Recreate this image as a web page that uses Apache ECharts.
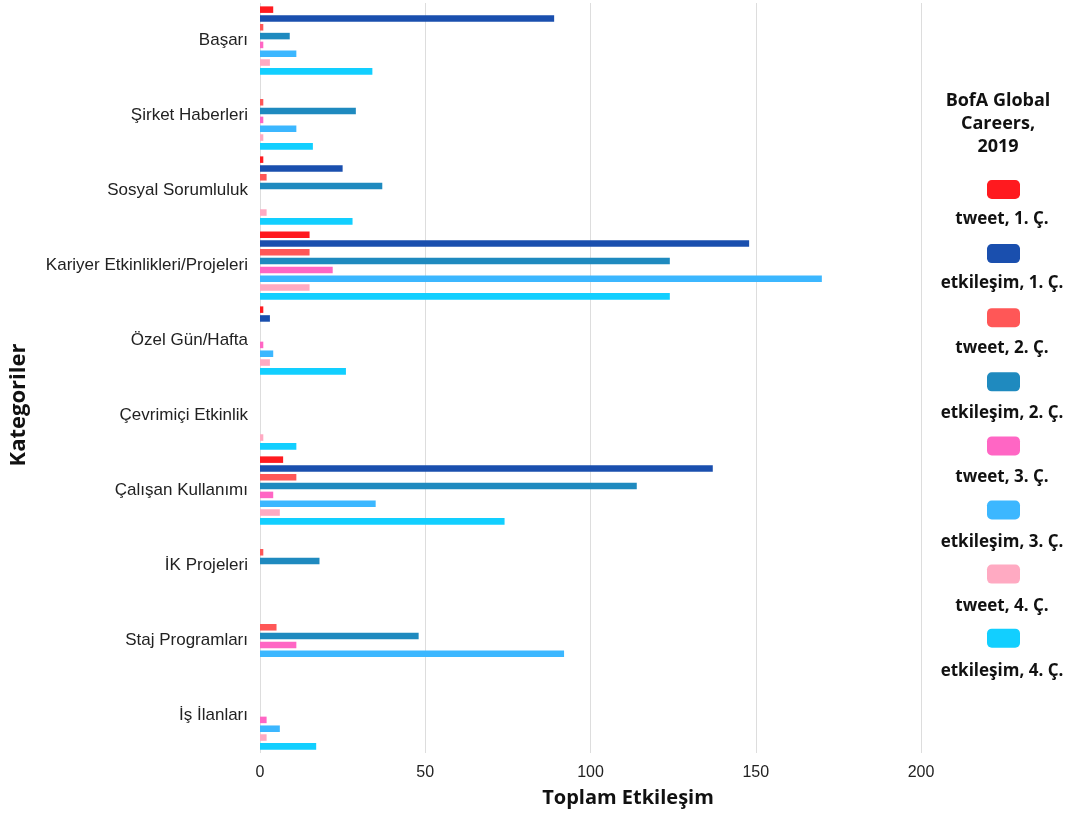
<!DOCTYPE html>
<html>
<head>
<meta charset="utf-8">
<script src="https://cdn.jsdelivr.net/npm/echarts@6/dist/echarts.min.js"></script>
<style>
  html, body { margin: 0; padding: 0; background: #ffffff; }
  #chart { width: 1070px; height: 816px; }
</style>
</head>
<body>
<div id="chart"></div>
<script>
// Categories (top to bottom)
const categories = [
  'Başarı', 'Şirket Haberleri', 'Sosyal Sorumluluk', 'Kariyer Etkinlikleri/Projeleri',
  'Özel Gün/Hafta', 'Çevrimiçi Etkinlik', 'Çalışan Kullanımı', 'İK Projeleri',
  'Staj Programları', 'İş İlanları'
];

// Series names and values per quarter
const seriesNames = [
  'tweet, 1. Ç.', 'etkileşim, 1. Ç.', 'tweet, 2. Ç.', 'etkileşim, 2. Ç.',
  'tweet, 3. Ç.', 'etkileşim, 3. Ç.', 'tweet, 4. Ç.', 'etkileşim, 4. Ç.'
];
const tweetQ1 = [4, 0, 1, 15, 1, 0, 7, 0, 0, 0];
const etkQ1   = [89, 0, 25, 148, 3, 0, 137, 0, 0, 0];
const tweetQ2 = [1, 1, 2, 15, 0, 0, 11, 1, 5, 0];
const etkQ2   = [9, 29, 37, 124, 0, 0, 114, 18, 48, 0];
const tweetQ3 = [1, 1, 0, 22, 1, 0, 4, 0, 11, 2];
const etkQ3   = [11, 11, 0, 170, 4, 0, 35, 0, 92, 6];
const tweetQ4 = [3, 1, 2, 15, 3, 1, 6, 0, 0, 2];
const etkQ4   = [34, 16, 28, 124, 26, 11, 74, 0, 0, 17];

// X axis ticks
const xTicks = [0, 50, 100, 150, 200];

const seriesValues = [tweetQ1, etkQ1, tweetQ2, etkQ2, tweetQ3, etkQ3, tweetQ4, etkQ4];
const colors = ['#ff1a1f', '#1a4fae', '#ff5757', '#1f8abf', '#ff66c4', '#3cb7ff', '#ffaac2', '#12cfff'];

const chart = echarts.init(document.getElementById('chart'), null, { renderer: 'canvas' });

const option = {
  backgroundColor: '#ffffff',
  animation: false,
  color: colors,
  title: {
    text: 'BofA Global\nCareers,\n2019',
    left: 993,
    top: 84,
    textAlign: 'center',
    textStyle: {
      fontFamily: 'Open Sans',
      fontWeight: 'bold',
      fontSize: 18,
      lineHeight: 23,
      color: '#111111'
    }
  },
  legend: [
    {
      // colour swatches
      orient: 'vertical',
      left: 982,
      top: 175,
      itemWidth: 33,
      itemHeight: 19,
      itemGap: 45.1,
      icon: 'roundRect',
      formatter: () => '',
      data: seriesNames
    },
    {
      // names under each swatch
      orient: 'vertical',
      left: 917,
      top: 204,
      itemWidth: 0,
      itemHeight: 20,
      itemGap: 44.6,
      icon: 'none',
      formatter: name => '{c|' + name + '}',
      textStyle: {
        rich: {
          c: {
            width: 150,
            height: 20,
            align: 'center',
            fontFamily: 'Open Sans',
            fontWeight: 'bold',
            fontSize: 17,
            lineHeight: 20,
            color: '#111111'
          }
        }
      },
      data: seriesNames
    }
  ],
  grid: {
    left: 258,
    right: 149,
    top: 3,
    bottom: 63,
    containLabel: false
  },
  xAxis: {
    type: 'value',
    min: xTicks[0],
    max: xTicks[xTicks.length - 1],
    interval: xTicks[1] - xTicks[0],
    name: 'Toplam Etkileşim',
    nameLocation: 'middle',
    nameGap: 35,
    nameTextStyle: {
      fontFamily: 'Open Sans',
      fontWeight: 'bold',
      fontSize: 20,
      color: '#111111',
      padding: [0, 0, 0, 75]
    },
    axisLine: { show: false },
    axisTick: { show: false },
    axisLabel: {
      fontFamily: 'Liberation Sans',
      fontSize: 16,
      color: '#222222',
      margin: 12
    },
    splitLine: { show: true, lineStyle: { color: '#dddddd', width: 1 } }
  },
  yAxis: {
    type: 'category',
    data: categories,
    inverse: true,
    name: 'Kategoriler',
    nameLocation: 'middle',
    nameRotate: 90,
    nameGap: 230,
    nameTextStyle: {
      fontFamily: 'Open Sans',
      fontWeight: 'bold',
      fontSize: 22,
      color: '#111111',
      padding: [0, 54, 0, 0]
    },
    axisLine: { show: false },
    axisTick: { show: false },
    axisLabel: {
      fontFamily: 'Liberation Sans',
      fontSize: 17,
      color: '#222222',
      margin: 12
    },
    splitLine: { show: false }
  },
  series: seriesNames.map((name, i) => ({
    name: name,
    type: 'bar',
    data: seriesValues[i],
    barGap: '35%',
    barCategoryGap: '9%',
    itemStyle: { color: colors[i] }
  }))
};

chart.setOption(option);
</script>
</body>
</html>
